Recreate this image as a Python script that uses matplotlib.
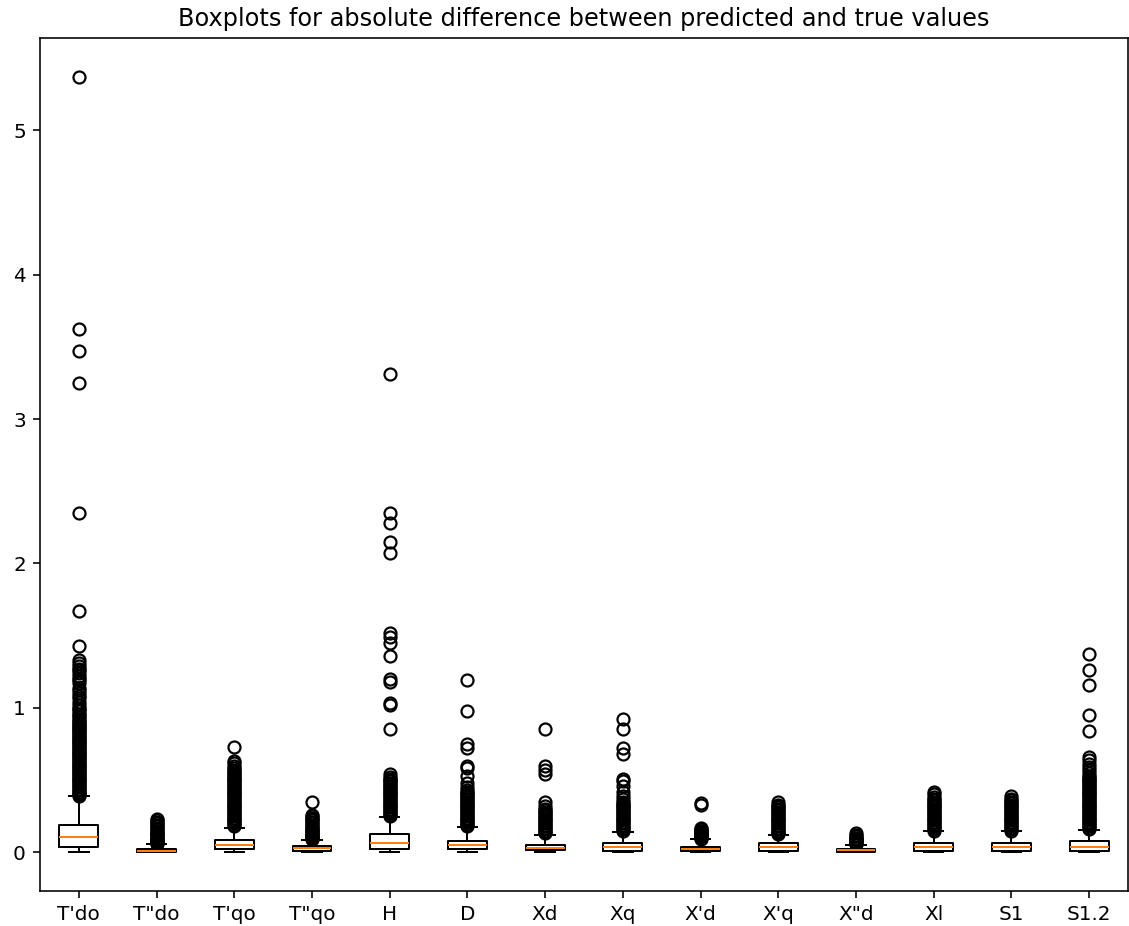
import matplotlib
matplotlib.use("Agg")
import matplotlib.pyplot as plt

categories = ["T'do", 'T"do', "T'qo", 'T"qo', "H", "D", "Xd", "Xq", "X'd", "X'q", 'X"d', "Xl", "S1", "S1.2"]

q1_vals  = [0.035, 0.003, 0.020, 0.007, 0.021, 0.022, 0.012, 0.007, 0.007, 0.007, 0.005, 0.007, 0.007, 0.010]
med_vals = [0.106, 0.011, 0.050, 0.026, 0.066, 0.051, 0.028, 0.037, 0.021, 0.037, 0.014, 0.037, 0.037, 0.033]
q3_vals  = [0.188, 0.022, 0.082, 0.044, 0.123, 0.081, 0.053, 0.065, 0.035, 0.065, 0.022, 0.065, 0.065, 0.081]
whislo_vals = [0.0] * 14
whishi_vals = [0.390, 0.058, 0.170, 0.082, 0.243, 0.172, 0.120, 0.140, 0.090, 0.120, 0.050, 0.146, 0.146, 0.157]

fliers_tdo = [0.39, 0.40, 0.41, 0.42, 0.43, 0.44, 0.45, 0.46, 0.47, 0.48, 0.49, 0.50, 0.51, 0.52,
              0.53, 0.54, 0.55, 0.56, 0.57, 0.58, 0.59, 0.60, 0.61, 0.62, 0.63, 0.64, 0.65, 0.66,
              0.67, 0.68, 0.69, 0.70, 0.71, 0.72, 0.73, 0.74, 0.75, 0.76, 0.77, 0.78, 0.79, 0.80,
              0.81, 0.82, 0.83, 0.84, 0.85, 0.86, 0.87, 0.88, 0.89, 0.90, 0.91, 0.92, 0.935, 0.95,
              0.96, 0.975, 0.99, 1.00, 1.02, 1.04, 1.07, 1.08, 1.10, 1.12, 1.14, 1.17, 1.19, 1.20,
              1.22, 1.24, 1.26, 1.27, 1.29, 1.31, 1.33, 1.43, 1.67, 2.35, 3.25, 3.47, 3.62, 5.37]
fliers_tsdo = [0.06, 0.065, 0.07, 0.075, 0.08, 0.085, 0.09, 0.095, 0.10, 0.11, 0.12, 0.125, 0.13,
               0.14, 0.15, 0.16, 0.17, 0.18, 0.19, 0.20, 0.21, 0.22, 0.23]
fliers_tqo = [0.18, 0.19, 0.20, 0.21, 0.22, 0.23, 0.24, 0.25, 0.26, 0.27, 0.28, 0.29, 0.30, 0.31,
              0.32, 0.33, 0.34, 0.35, 0.36, 0.37, 0.38, 0.39, 0.40, 0.41, 0.42, 0.43, 0.44, 0.45,
              0.46, 0.47, 0.48, 0.49, 0.50, 0.51, 0.52, 0.53, 0.54, 0.55, 0.56, 0.57, 0.58, 0.60,
              0.62, 0.63, 0.73]
fliers_tsqo = [0.09, 0.095, 0.10, 0.105, 0.11, 0.12, 0.125, 0.13, 0.14, 0.15, 0.155, 0.16, 0.17,
               0.18, 0.19, 0.20, 0.21, 0.22, 0.23, 0.24, 0.25, 0.26, 0.35]
fliers_h = [0.25, 0.26, 0.27, 0.28, 0.29, 0.30, 0.31, 0.32, 0.33, 0.34, 0.35, 0.36, 0.37, 0.38,
            0.39, 0.40, 0.41, 0.42, 0.43, 0.44, 0.45, 0.46, 0.47, 0.48, 0.49, 0.50, 0.51, 0.52,
            0.54, 0.85, 1.02, 1.03, 1.18, 1.20, 1.36, 1.45, 1.49, 1.52, 2.07, 2.15, 2.28, 2.35, 3.31]
fliers_d = [0.18, 0.19, 0.20, 0.21, 0.22, 0.23, 0.24, 0.25, 0.26, 0.27, 0.28, 0.29, 0.30, 0.31,
            0.32, 0.33, 0.34, 0.35, 0.36, 0.37, 0.38, 0.39, 0.40, 0.41, 0.42, 0.43, 0.45, 0.48,
            0.53, 0.58, 0.60, 0.72, 0.75, 0.98, 1.19]
fliers_xd = [0.13, 0.14, 0.15, 0.16, 0.17, 0.18, 0.19, 0.20, 0.21, 0.22, 0.23, 0.24, 0.25, 0.26,
             0.27, 0.28, 0.29, 0.30, 0.32, 0.35, 0.54, 0.57, 0.60, 0.85]
fliers_xq = [0.15, 0.16, 0.17, 0.18, 0.19, 0.20, 0.21, 0.22, 0.23, 0.24, 0.25, 0.26, 0.27, 0.28,
             0.29, 0.30, 0.31, 0.32, 0.33, 0.34, 0.35, 0.37, 0.39, 0.42, 0.46, 0.49, 0.51, 0.68,
             0.72, 0.85, 0.92]
fliers_xtd = [0.095, 0.10, 0.105, 0.11, 0.115, 0.12, 0.125, 0.13, 0.135, 0.14, 0.145, 0.15,
              0.16, 0.17, 0.33, 0.34]
fliers_xtq = [0.125, 0.13, 0.14, 0.15, 0.16, 0.17, 0.18, 0.19, 0.20, 0.21, 0.22, 0.23, 0.24,
              0.25, 0.26, 0.27, 0.28, 0.29, 0.30, 0.31, 0.32, 0.33, 0.35]
fliers_xsd = [0.055, 0.06, 0.065, 0.07, 0.075, 0.08, 0.085, 0.09, 0.095, 0.10, 0.11, 0.12, 0.13]
fliers_xl = [0.15, 0.16, 0.17, 0.18, 0.19, 0.20, 0.21, 0.22, 0.23, 0.24, 0.25, 0.26, 0.27, 0.28,
             0.29, 0.30, 0.31, 0.32, 0.33, 0.34, 0.35, 0.36, 0.37, 0.38, 0.40, 0.42]
fliers_s1 = [0.15, 0.16, 0.17, 0.18, 0.19, 0.20, 0.21, 0.22, 0.23, 0.24, 0.25, 0.26, 0.27, 0.28,
             0.29, 0.30, 0.31, 0.32, 0.33, 0.34, 0.35, 0.36, 0.37, 0.39]
fliers_s12 = [0.16, 0.17, 0.18, 0.19, 0.20, 0.21, 0.22, 0.23, 0.24, 0.25, 0.26, 0.27, 0.28, 0.29,
              0.30, 0.31, 0.32, 0.33, 0.34, 0.35, 0.36, 0.37, 0.38, 0.39, 0.40, 0.41, 0.42, 0.43,
              0.44, 0.45, 0.46, 0.47, 0.48, 0.49, 0.50, 0.51, 0.52, 0.53, 0.55, 0.57, 0.59, 0.61,
              0.64, 0.66, 0.84, 0.95, 1.16, 1.26, 1.37]

fliers_all = [fliers_tdo, fliers_tsdo, fliers_tqo, fliers_tsqo, fliers_h, fliers_d, fliers_xd,
              fliers_xq, fliers_xtd, fliers_xtq, fliers_xsd, fliers_xl, fliers_s1, fliers_s12]

title = "Boxplots for absolute difference between predicted and true values"

W, H, DPI = 1129, 926, 144
fig = plt.figure(figsize=(W / DPI, H / DPI), dpi=DPI)
ax = fig.add_axes([40 / W, (H - 891) / H, (1128 - 40) / W, (891 - 38) / H])

stats = []
for i, cat in enumerate(categories):
    stats.append(dict(label=cat, q1=q1_vals[i], med=med_vals[i], q3=q3_vals[i],
                      whislo=whislo_vals[i], whishi=whishi_vals[i], fliers=fliers_all[i]))

ax.bxp(stats, positions=list(range(1, len(categories) + 1)),
       flierprops=dict(marker='o', markerfacecolor='none', markeredgecolor='black',
                       markersize=6, markeredgewidth=1.1))
ax.set_title(title)

fig.savefig("out.png", dpi=DPI)
